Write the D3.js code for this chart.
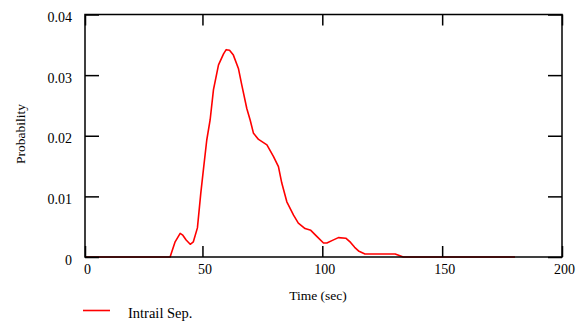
<!DOCTYPE html>
<html>
  <head>
    <style>
      body { margin: 0; background: #fff; }
      svg text { font-family: 'Liberation Serif', 'Times New Roman', serif; }
    </style>
  </head>
  <body>
    <div class="chart"></div>
    <script src="https://cdn.jsdelivr.net/npm/d3@7"></script>
    <script>
      var times = [1, 36.5, 38.6, 40.7, 41.8, 43.2, 44.9, 46.2, 47.9, 49.3,
        50.4, 51.8, 53.2, 54.6, 56.7, 58.8, 59.9, 61.3, 62.9, 65,
        66.4, 68.5, 69.9, 71.3, 73.4, 76.9, 79.6, 81.7, 83.1, 85.2,
        88, 90, 92.8, 95.2, 97.7, 100.5, 101.9, 104, 106.7, 109.8,
        111.8, 113.5, 115.1, 117.8, 130.4, 133.8, 180.4];
      var probs = [0, 0, 0.0025, 0.0039, 0.0036, 0.0028, 0.0021, 0.0025, 0.0048, 0.0105,
        0.0144, 0.0193, 0.0226, 0.0276, 0.0317, 0.0335, 0.0342, 0.0341, 0.0333, 0.0311,
        0.0284, 0.0245, 0.0226, 0.0204, 0.0194, 0.0185, 0.0166, 0.0149, 0.0122, 0.0091,
        0.0069, 0.0056, 0.0047, 0.0044, 0.0034, 0.0023, 0.0023, 0.0027, 0.0032, 0.0031,
        0.0024, 0.0016, 0.001, 0.0005, 0.0005, 0, 0];
      var xTicks = [1, 50, 100, 150, 200];
      var xTickLabels = ['0', '50', '100', '150', '200'];
      var yTicks = [0, 0.01, 0.02, 0.03, 0.04];
      var yTickLabels = ['0', '0.01', '0.02', '0.03', '0.04'];
      var seriesName = 'Intrail Sep.';

      // plot box
      var box = {left: 85, right: 562, top: 14.5, bottom: 257};
      var svg = d3.select('.chart').append('svg')
        .attr('width', 581)
        .attr('height', 325);

      var x = d3.scaleLinear().domain([1, 200]).range([box.left, box.right]);
      var y = d3.scaleLinear().domain([0, 0.04]).range([box.bottom, box.top]);

      var data = times.map(function(t, i) { return {t: t, p: probs[i]}; });

      // curve
      var line = d3.line()
        .x(function(d) { return x(d.t); })
        .y(function(d) { return y(d.p); });
      svg.append('path')
        .datum(data)
        .attr('d', line)
        .attr('fill', 'none')
        .attr('stroke', '#ff0000')
        .attr('stroke-width', 1.6)
        .attr('stroke-linejoin', 'round');

      // frame
      svg.append('rect')
        .attr('x', box.left).attr('y', box.top)
        .attr('width', box.right - box.left).attr('height', box.bottom - box.top)
        .attr('fill', 'none')
        .attr('stroke', '#000')
        .attr('stroke-width', 1.5);

      function styleAxis(g) {
        g.attr('font-family', null).attr('font-size', null);
        g.select('.domain').remove();
        g.selectAll('.tick line').attr('stroke', '#000').attr('stroke-width', 1.5);
        g.selectAll('.tick text').attr('fill', '#000')
          .style('font-size', '14px')
          .style('font-family', "'Liberation Serif', 'Times New Roman', serif");
      }

      var gx = svg.append('g')
        .attr('transform', 'translate(0,' + box.bottom + ')')
        .call(d3.axisBottom(x).tickValues(xTicks).tickSize(-11)
          .tickFormat(function(d, i) { return xTickLabels[i]; }))
        .call(styleAxis);
      gx.selectAll('.tick text')
        .attr('y', 17).attr('dy', 0).attr('dx', 2);

      svg.append('g')
        .attr('transform', 'translate(0,' + box.top + ')')
        .call(d3.axisTop(x).tickValues(xTicks).tickSize(-11).tickFormat(''))
        .call(styleAxis);

      var gy = svg.append('g')
        .attr('transform', 'translate(' + box.left + ',0)')
        .call(d3.axisLeft(y).tickValues(yTicks).tickSize(-14)
          .tickFormat(function(d, i) { return yTickLabels[i]; }))
        .call(styleAxis);
      gy.selectAll('.tick text')
        .attr('x', -13).attr('dy', '0.5em');

      svg.append('g')
        .attr('transform', 'translate(' + box.right + ',0)')
        .call(d3.axisRight(y).tickValues(yTicks).tickSize(-14).tickFormat(''))
        .call(styleAxis);

      // axis titles
      svg.append('text')
        .attr('x', 318).attr('y', 300)
        .attr('text-anchor', 'middle')
        .style('font-size', '13.5px')
        .text('Time (sec)');
      svg.append('text')
        .attr('transform', 'translate(25,134) rotate(-90)')
        .attr('text-anchor', 'middle')
        .style('font-size', '13.5px')
        .text('Probability');

      // legend
      svg.append('line')
        .attr('x1', 83).attr('x2', 110)
        .attr('y1', 310.5).attr('y2', 310.5)
        .attr('stroke', '#ff0000')
        .attr('stroke-width', 1.6);
      svg.append('text')
        .attr('x', 128).attr('y', 318)
        .style('font-size', '14.5px')
        .text(seriesName);
    </script>
  </body>
</html>
